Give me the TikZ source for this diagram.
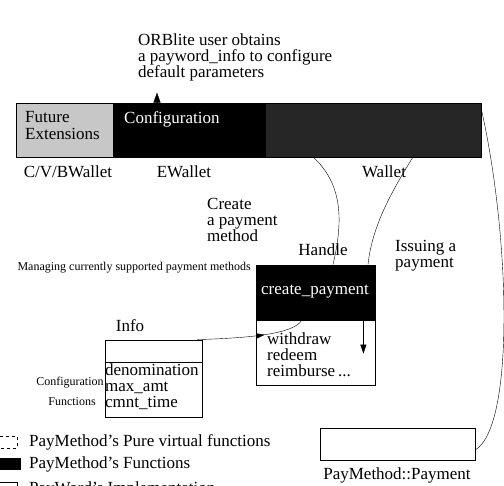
\documentclass[tikz,border=0pt]{standalone}
\usepackage{fontspec}
\setmainfont{Liberation Serif}
\usetikzlibrary{arrows.meta,positioning,decorations.markings}

\begin{document}
\begin{tikzpicture}[x=1pt,y=1pt,
  lbl/.style={font=\fontsize{17}{16}\selectfont, inner sep=0pt, align=left},
  tinylbl/.style={font=\fontsize{12}{12}\selectfont, inner sep=0pt},
  blk/.style={draw, anchor=south west, inner sep=0pt},
  midarrow/.style={postaction={decorate},
    decoration={markings,mark=at position #1 with {\arrow{Triangle[length=8pt,width=5pt]}}}}
]
\useasboundingbox (0,0) rectangle (504,486);

% the bar of payment method parts
\node[blk, fill=black!22, minimum width=97pt, minimum height=54pt] (future) at (16,329) {};
\node[blk, fill=black, minimum width=152pt, minimum height=54pt] (config) at (113,329) {};
\node[blk, fill=black!85, minimum width=216pt, minimum height=54pt] (iface) at (265,329) {};
\node[lbl, anchor=north west, font=\fontsize{17}{17}\selectfont] (futuretxt) at ([xshift=9pt,yshift=-9pt]future.north west) {Future\\Extensions};
\node[lbl, anchor=north west, text=white] (configtxt) at ([xshift=11pt,yshift=-9pt]config.north west) {Configuration};

\node[lbl, anchor=north west] (orb) at (138,452) {ORBlite user obtains\\a payword\_info to configure\\default parameters};
\draw[-{Triangle[length=10pt,width=7pt]}] ([xshift=44pt]config.north west) -- ++(0,10);

% names under the bar
\node[lbl] (cvb) at (68,314) {C/V/BWallet};
\node[lbl] (ewallet) at (184,314) {EWallet};
\node[lbl] (wallet) at (384,314) {Wallet};

% create payment
\node[lbl, anchor=north west, font=\fontsize{17}{16}\selectfont] (create) at (207,288) {Create\\a payment\\method};
\node[lbl] (handle) at (323,236) {Handle};
\node[lbl, anchor=north west] (issuing) at (395,246) {Issuing a\\payment};
\node[tinylbl, anchor=east] (managing) at (251,218) {Managing currently supported payment methods};

\node[blk, fill=black, minimum width=119pt, minimum height=55pt] (createpay) at (256,166) {};
\node[blk, minimum width=119pt, minimum height=65pt] (methods) at (256,101) {};
\node[lbl, text=white] (createtxt) at (315,194) {create\_payment};
\node[lbl, anchor=north west, font=\fontsize{17}{16}\selectfont] (methodtxt) at (267,153) {withdraw\\redeem\\reimburse\,...};
\draw[-{Triangle[length=9pt,width=6pt]}] ([xshift=-12pt]methods.north east) -- ++(0,-34);

% info
\node[lbl] (infolbl) at (130,160) {Info};
\node[blk, minimum width=97pt, minimum height=77pt] (info) at (105,69) {};
\draw ([yshift=-23pt]info.north west) -- ([yshift=-23pt]info.north east);
\node[lbl, anchor=north west] (infotxt) at ([yshift=-24pt]info.north west) {denomination\\max\_amt\\cmnt\_time};
\node[tinylbl] (conftxt) at (70,103) {Configuration};
\node[tinylbl] (functxt) at (72,84) {Functions};

% payment
\node[blk, minimum width=155pt, minimum height=32pt] (payment) at (320,26) {};
\node[lbl] (paymenttxt) at (397,11) {PayMethod::Payment};

% legend
\node[blk, dashed, minimum width=22pt, minimum height=12pt] (legvirt) at (-5,38) {};
\node[lbl, anchor=west] (legvirttxt) at (29,44) {PayMethod's Pure virtual functions};
\node[blk, fill=black, minimum width=20pt, minimum height=11pt] (legfunc) at (0,17) {};
\node[lbl, anchor=west] (legfunctxt) at (29,22) {PayMethod's Functions};
\node[blk, minimum width=22pt, minimum height=10pt] (legimpl) at (-5,-6) {};
\node[lbl, anchor=west] (legimpltxt) at (29,-3) {PayWord's Implementation};

% connectors
\draw ([xshift=48pt]iface.south west) .. controls (345,300) and (342,260) .. ([xshift=77pt]createpay.north west);
\draw ([xshift=148pt]iface.south west) .. controls (392,295) and (372,260) .. ([xshift=112pt]createpay.north west);
\draw ([yshift=-7pt]iface.north east) .. controls (510,250) and (515,60) .. ([yshift=-6pt]payment.east);
\draw[midarrow=0.62] ([xshift=-5pt]info.north east) .. controls (250,148) and (295,152) .. ([xshift=46pt]methods.north west);
\end{tikzpicture}
\end{document}
